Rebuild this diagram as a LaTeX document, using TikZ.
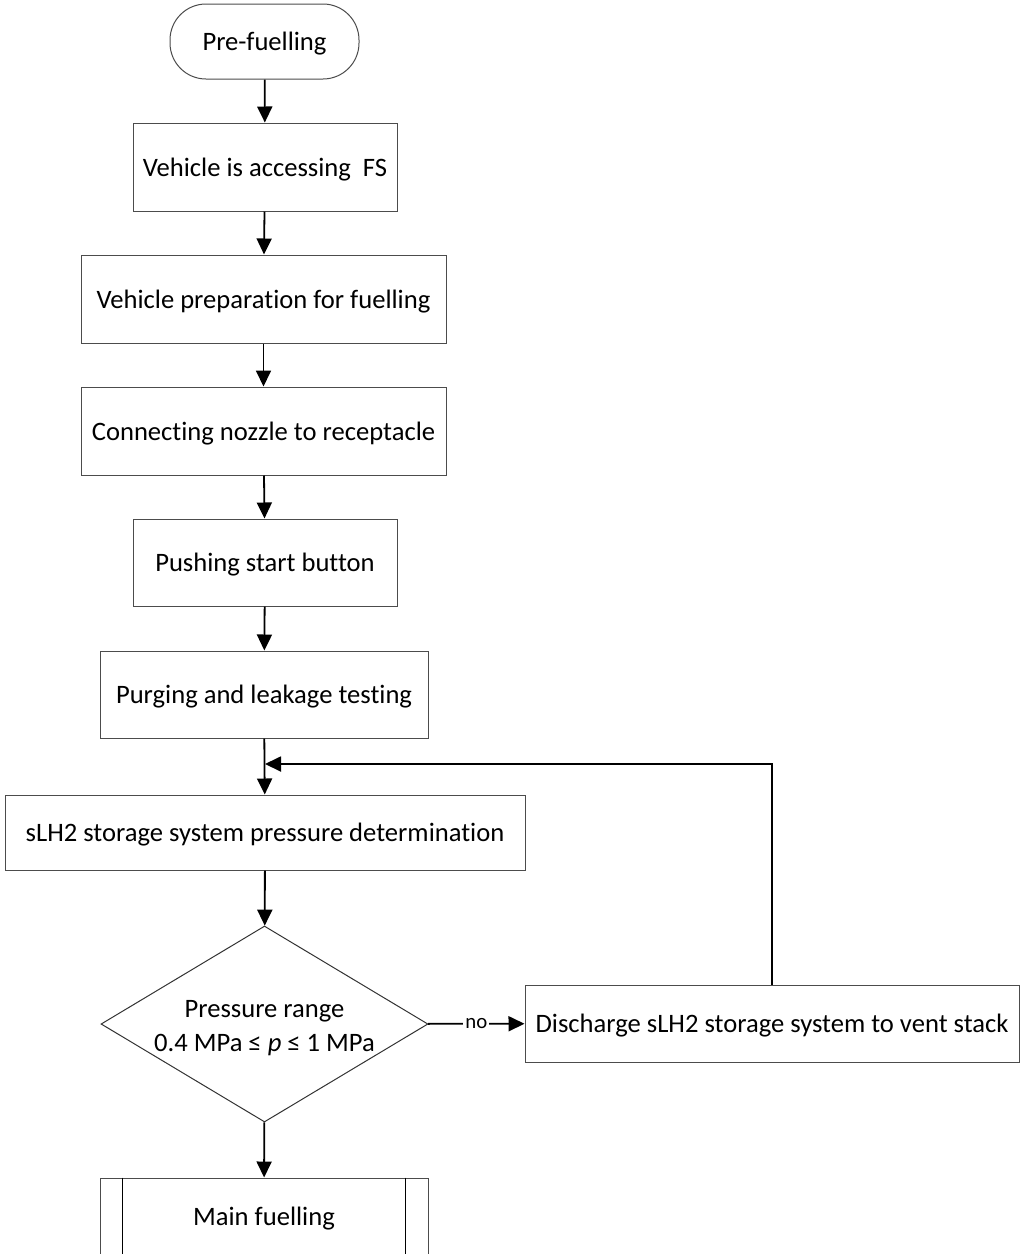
\documentclass[tikz,border=0pt]{standalone}
\usepackage{fontspec}
\setmainfont{Carlito}[Ligatures=NoCommon]
\usetikzlibrary{arrows.meta,shapes.geometric}

\tikzset{
  shp/.style={draw=black!70,line width=0.5pt,fill=white,font=\fontsize{13.3}{17}\selectfont},
  box/.style={shp,inner sep=0pt,text depth=0pt},
  term/.style={box,rounded corners=18pt},
  decis/.style={shp,diamond,shape aspect=1.67,inner sep=-3.5pt,draw=black!80},
  flow/.style={line width=0.9pt,-{Triangle[length=8pt,width=7.5pt]}}
}

\begin{document}
\begin{tikzpicture}[x=0.5pt,y=-0.5pt]
\useasboundingbox (0,0) rectangle (1021,1254);
% ---- main column
\node[term,minimum width=94.5pt,minimum height=37.5pt] (pre) at (264.5,41.5) {Pre-fuelling};
\node[box,minimum width=132pt,minimum height=44pt] (access) at (265,167) {Vehicle is accessing~ FS};
\node[box,minimum width=182.5pt,minimum height=44pt] (prep) at (263.5,299) {Vehicle preparation for fuelling};
\node[box,minimum width=182.5pt,minimum height=44pt] (connect) at (263.5,431) {Connecting nozzle to receptacle};
\node[box,minimum width=132pt,minimum height=43.5pt] (push) at (265,562.5) {Pushing start button};
\node[box,minimum width=164pt,minimum height=43.5pt] (purge) at (264,694.5) {Purging and leakage testing};
\node[box,minimum width=260pt,minimum height=37.5pt] (press) at (265,832.5) {sLH2 storage system pressure determination};
\node[decis,minimum width=163.5pt,minimum height=98pt] (range) at (264.5,1024) {\begin{tabular}{@{}c@{}}\rule{0pt}{15.9pt}Pressure range\\0.4 MPa ≤ \textit{p} ≤ 1 MPa\end{tabular}};
\node[box,minimum width=247pt,minimum height=38.5pt] (vent) at (772,1023.5) {Discharge sLH2 storage system to vent stack};
\node[box,minimum width=164pt,minimum height=38pt] (mainf) at (264,1216) {Main fuelling};
\draw[line width=0.5pt] ([xshift=11.5pt]mainf.north west) -- ([xshift=11.5pt]mainf.south west);
\draw[line width=0.5pt] ([xshift=-11.5pt]mainf.north east) -- ([xshift=-11.5pt]mainf.south east);
\coordinate (back) at (265,764);
% ---- connectors
\draw[flow] (pre) -- (access);
\draw[flow] (access) -- (prep);
\draw[flow] (prep) -- (connect);
\draw[flow] (connect) -- (push);
\draw[flow] (push) -- (purge);
\draw[flow] (purge) -- (press);
\draw[flow] (press) -- (range);
\draw[flow] (range) -- node[fill=white,inner sep=1pt,font=\fontsize{10.4}{12}\selectfont]{no} (vent);
\draw[flow] (vent.north) |- (back);
\draw[flow] (range) -- (mainf);
\end{tikzpicture}
\end{document}
